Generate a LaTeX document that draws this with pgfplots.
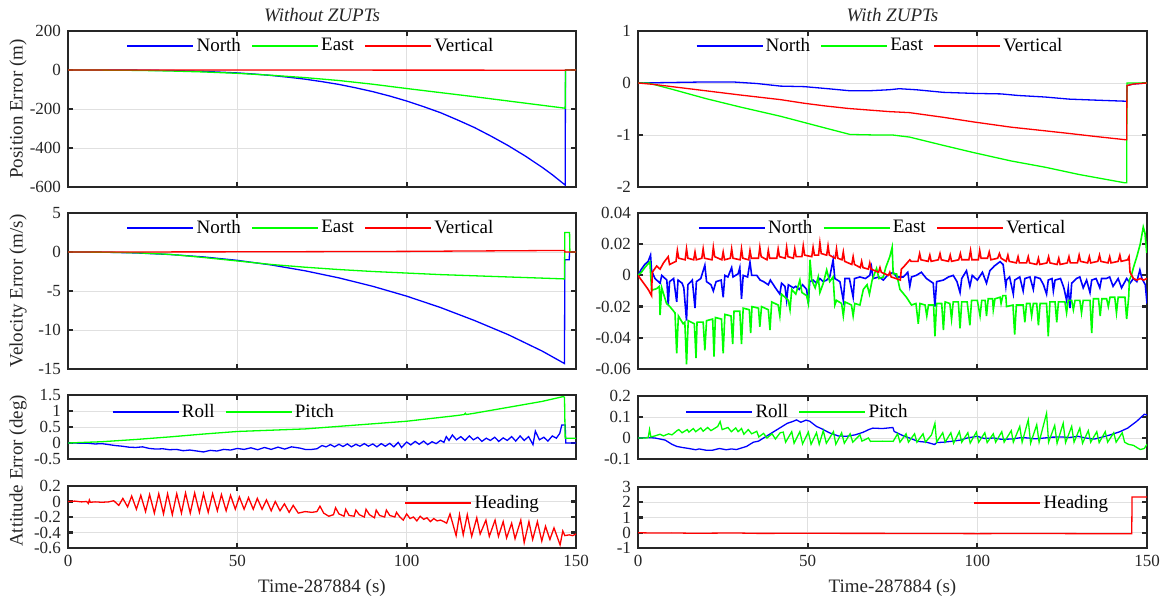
\documentclass[border=0pt]{standalone}
\usepackage{fontspec}
\setmainfont{Liberation Serif}
\usepackage{pgfplots}
\pgfplotsset{compat=1.18}
\definecolor{mblue}{RGB}{0,0,255}
\definecolor{mgreen}{RGB}{0,255,0}
\definecolor{mred}{RGB}{255,0,0}
\definecolor{axcol}{RGB}{38,38,38}
\definecolor{gridcol}{RGB}{224,224,224}
\newcommand\lab{\fontsize{9.5}{11}\selectfont}
\newcommand\tck{\fontsize{8.5}{10}\selectfont}
\pgfplotsset{
  base/.style={scale only axis, xmin=0, xmax=150, xtick={0,50,100,150},
    axis line style={line width=1.1pt, color=axcol},
    tick style={color=axcol, line width=1.1pt},
    tick align=inside, major tick length=2.5pt,
    grid=major, grid style={line width=0.4pt, color=gridcol},
    tick label style={font=\tck, color=axcol},
    /pgf/number format/assume math mode=true,
    scaled ticks=false,
    legend style={draw=none, fill=none, font=\lab, legend columns=-1,
      inner xsep=0pt, inner ysep=0pt, nodes={inner sep=1.25pt},
      /tikz/every even column/.append style={column sep=4pt}},
    legend image code/.code={\draw[##1] (0pt,0pt) -- (33pt,0pt);},
    every axis plot/.append style={line width=0.65pt},
    every axis y label/.style={at={(axis description cs:-0.0984,0.5)}, rotate=90, anchor=center, font=\lab, color=axcol},
    every axis x label/.style={at={(axis description cs:0.5,0)}, yshift=-20pt, anchor=center, font=\lab, color=axcol},
    every axis title/.style={at={(axis description cs:0.5,1)}, yshift=7.75pt, anchor=center, font=\lab\itshape, color=axcol},
    anchor=north west},
  lefta/.style={base, width=254pt},
  righta/.style={base, width=254.5pt},
}
\begin{document}
\begin{tikzpicture}
\path[use as bounding box] (0,0) rectangle (583.5pt,-301.5pt);

% ---------- Left 1: Position without ZUPTs
\begin{axis}[lefta, at={(34pt,-15.5pt)}, height=78pt, ymin=-600, ymax=200,
  ytick={-600,-400,-200,0,200}, yticklabels={-600,-400,-200,0,200}, xticklabels={},
  title={Without ZUPTs}, ylabel={Position Error (m)},
  legend style={at={(0.115,0.904)}, anchor=west}]
\addplot[mblue] coordinates {(0,0)(10,-0.06)(20,-0.7)(30,-2.7)(40,-7.1)(50,-15)(55,-20.8)(60,-28)(65,-36.8)(70,-47)(75,-59.8)(80,-74)(85,-91.6)(90,-111)(95,-133.6)(100,-159)(105,-188)(110,-219)(115,-256)(120,-295)(125,-340)(130,-388)(135,-441)(140,-499)(143,-537)(146.8,-590)(146.9,0)(150,0)};
\addplot[mgreen] coordinates {(0,0)(10,-0.5)(20,-2)(30,-5)(40,-10)(50,-17)(60,-27)(70,-39)(80,-54)(90,-73)(100,-95)(110,-116)(120,-137)(130,-159)(140,-181)(146.8,-196)(146.9,0)(150,0)};
\addplot[mred] coordinates {(0,0)(50,-0.3)(100,-0.6)(146.8,-1)(146.9,0)(150,0)};
\legend{North,East,Vertical}
\end{axis}

% ---------- Left 2: Velocity without ZUPTs
\begin{axis}[lefta, at={(34pt,-106.5pt)}, height=78pt, ymin=-15, ymax=5,
  ytick={-15,-10,-5,0,5}, yticklabels={-15,-10,-5,0,5}, xticklabels={},
  ylabel={Velocity Error (m/s)},
  legend style={at={(0.115,0.904)}, anchor=west}]
\addplot[mblue] coordinates {(0,0)(10,-0.02)(20,-0.12)(30,-0.32)(40,-0.63)(50,-1.07)(60,-1.66)(70,-2.41)(80,-3.32)(90,-4.40)(100,-5.66)(110,-7.12)(120,-8.78)(130,-10.6)(140,-12.7)(146.6,-14.3)(146.7,-1)(148,-1)(148.1,0)(150,0)};
\addplot[mgreen] coordinates {(0,0)(10,-0.02)(20,-0.1)(30,-0.3)(40,-0.7)(50,-1.15)(60,-1.6)(70,-1.95)(80,-2.25)(90,-2.5)(100,-2.7)(110,-2.9)(120,-3.05)(130,-3.2)(140,-3.35)(146.6,-3.45)(146.7,2.5)(148.1,2.5)(148.2,0)(150,0)};
\addplot[mred] coordinates {(0,0)(50,0.02)(100,0.08)(146.6,0.2)(146.7,0)(150,0)};
\legend{North,East,Vertical}
\end{axis}

% ---------- Left 3: Roll / Pitch without ZUPTs
\begin{axis}[lefta, at={(34pt,-197.5pt)}, height=32pt, ymin=-0.5, ymax=1.5,
  ytick={-0.5,0,0.5,1,1.5}, yticklabels={-0.5,0,0.5,1,1.5}, xticklabels={},
  legend style={at={(0.086,0.734)}, anchor=west}]
\addplot[mblue] coordinates {(0,0)(2,0)(4,-0.01)(6,-0.01)(8,-0.03)(10,-0.02)(12,-0.05)(14,-0.08)(16,-0.1)(18,-0.13)(20,-0.14)(22,-0.12)(24,-0.17)(26,-0.19)(28,-0.18)(30,-0.21)(32,-0.2)(34,-0.24)(36,-0.22)(38,-0.25)(40,-0.28)(42,-0.23)(44,-0.25)(46,-0.2)(48,-0.22)(50,-0.17)(52,-0.2)(54,-0.15)(56,-0.21)(58,-0.14)(60,-0.2)(62,-0.13)(64,-0.19)(66,-0.12)(68.5,-0.16)(70,-0.2)(72,-0.2)(73.5,-0.18)(75,-0.08)(76.2,-0.12)(77.5,-0.05)(78.7,-0.12)(80,-0.04)(81.2,-0.11)(82.5,-0.03)(83.7,-0.12)(85,-0.04)(86.2,-0.1)(87.5,-0.02)(88.7,-0.1)(90,-0.03)(91.2,-0.12)(92.5,-0.02)(93.7,-0.1)(95,-0.01)(96.2,-0.12)(97.5,0.02)(98.5,-0.14)(100,0.03)(101.2,-0.06)(102.5,0.05)(103.7,-0.04)(105,0.06)(106.2,-0.05)(107.5,0.04)(108.7,-0.02)(110,0.08)(111,0.02)(111.7,0.2)(112.5,0.08)(113.5,0.25)(114.7,0.1)(116,0.2)(117.2,0.08)(118.5,0.22)(119.7,0.1)(121,0.18)(122.2,0.05)(123.5,0.15)(124.7,0.08)(126,0.18)(127.2,0.05)(128.5,0.16)(129.7,0.08)(131,0.2)(132.2,0.06)(133.5,0.22)(134.7,0.08)(136,0.2)(137.3,-0.05)(138,0.37)(139.2,0.1)(140.5,0.18)(141.7,0.06)(143,0.22)(144.2,0.15)(145.2,0.3)(145.8,0.56)(146.8,0.56)(147,0.0)(150,0.0)};
\addplot[mgreen] coordinates {(0,0)(10,0.04)(20,0.11)(30,0.19)(40,0.28)(50,0.36)(60,0.40)(70,0.44)(80,0.52)(90,0.60)(100,0.68)(110,0.80)(115,0.86)(117,0.89)(117.3,0.93)(117.6,0.89)(120,0.93)(133,1.17)(140,1.30)(146.2,1.45)(146.6,1.43)(146.8,0.15)(150,0.15)};
\legend{Roll,Pitch}
\end{axis}

% ---------- Left 4: Heading without ZUPTs
\begin{axis}[lefta, at={(34pt,-243pt)}, height=31pt, ymin=-0.6, ymax=0.2,
  ytick={-0.6,-0.4,-0.2,0,0.2}, yticklabels={-0.6,-0.4,-0.2,0,0.2}, xticklabels={0,50,100,150},
  xlabel={Time-287884 (s)},
  legend style={at={(0.662,0.726)}, anchor=west}]
\addplot[mred] coordinates {(0,0)(2,0.005)(4,-0.005)(5.5,0)(6,-0.025)(6.3,0.02)(6.6,-0.01)(8,-0.005)(10,-0.01)(12,-0.005)(13.5,0.01)(15,-0.05)(16.2,0.04)(17.6,-0.07)(18.8,0.07)(20.2,-0.1)(21.5,0.08)(22.9,-0.13)(24.1,0.09)(25.5,-0.15)(26.8,0.1)(28.2,-0.16)(29.4,0.1)(30.8,-0.17)(32.1,0.1)(33.5,-0.15)(34.7,0.11)(36.1,-0.15)(37.4,0.11)(38.8,-0.14)(40,0.1)(41.4,-0.14)(42.7,0.1)(44.1,-0.12)(45.3,0.09)(46.7,-0.12)(48,0.08)(49.4,-0.1)(50.6,0.06)(52,-0.1)(53.3,0.05)(54.7,-0.1)(55.9,0.04)(57.3,-0.1)(58.6,0.02)(60,-0.12)(61.2,0.0)(62.6,-0.12)(63.9,-0.03)(65.3,-0.14)(66.5,-0.05)(68,-0.15)(70,-0.13)(72,-0.14)(73.5,-0.13)(74.4,-0.06)(75.5,-0.15)(77,-0.19)(78.4,-0.17)(79,-0.08)(80,-0.16)(81.5,-0.19)(82,-0.1)(83,-0.18)(84.5,-0.19)(85,-0.11)(86,-0.17)(87.5,-0.2)(88,-0.1)(89,-0.17)(90.5,-0.21)(91,-0.11)(92,-0.18)(93.5,-0.2)(94,-0.11)(95,-0.18)(96.5,-0.2)(97,-0.14)(98,-0.2)(99,-0.24)(100,-0.16)(101,-0.22)(102,-0.2)(103,-0.25)(104,-0.19)(105,-0.23)(106,-0.21)(107,-0.26)(108,-0.22)(109,-0.25)(110,-0.24)(111,-0.26)(111.8,-0.28)(112.8,-0.16)(114.6,-0.44)(115.6,-0.17)(116.7,-0.43)(117.9,-0.17)(119.2,-0.45)(120.7,-0.21)(121.7,-0.42)(123.4,-0.24)(124.4,-0.45)(126.1,-0.24)(127.1,-0.45)(128.5,-0.26)(129.5,-0.47)(131,-0.28)(132,-0.48)(133.7,-0.24)(134.7,-0.53)(136.1,-0.26)(137.2,-0.49)(138.6,-0.26)(139.9,-0.51)(141,-0.32)(142.3,-0.49)(143.5,-0.34)(145.3,-0.56)(146.1,-0.38)(146.7,-0.44)(148,-0.43)(149,-0.44)(150,-0.42)};
\legend{Heading}
\end{axis}

% ---------- Right 1: Position with ZUPTs
\begin{axis}[righta, at={(319pt,-15.5pt)}, height=78pt, ymin=-2, ymax=1,
  ytick={-2,-1,0,1}, yticklabels={-2,-1,0,1}, xticklabels={},
  title={With ZUPTs},
  legend style={at={(0.113,0.904)}, anchor=west}]
\addplot[mblue] coordinates {(0,0)(10,0.01)(20,0.02)(28,0.02)(35,-0.01)(42,-0.06)(49,-0.07)(56,-0.11)(62.5,-0.15)(68,-0.15)(74,-0.13)(77,-0.11)(82,-0.13)(90,-0.18)(99,-0.2)(107,-0.21)(112,-0.24)(120,-0.27)(127,-0.31)(135,-0.33)(143.5,-0.35)(144,-0.35)(144.1,-0.05)(146,-0.02)(150,0)};
\addplot[mgreen] coordinates {(0,0)(3,0)(10,-0.12)(20,-0.3)(30,-0.46)(42,-0.64)(49,-0.76)(56,-0.88)(62.5,-0.99)(70,-1.0)(75,-1.0)(80,-1.04)(90,-1.2)(99,-1.34)(110,-1.5)(120,-1.62)(130,-1.76)(143.5,-1.92)(144,-1.92)(144.1,0)(150,0)};
\addplot[mred] coordinates {(0,0)(5,-0.03)(10,-0.07)(20,-0.15)(30,-0.23)(42,-0.32)(49,-0.39)(55,-0.44)(62,-0.49)(68,-0.52)(74,-0.55)(80,-0.57)(90,-0.66)(99,-0.75)(110,-0.85)(120,-0.92)(127,-0.97)(135,-1.03)(143.5,-1.09)(144,-1.09)(144.1,-0.05)(146,-0.02)(150,0)};
\legend{North,East,Vertical}
\end{axis}

% ---------- Right 2: Velocity with ZUPTs
\begin{axis}[righta, at={(319pt,-106.5pt)}, height=78pt, ymin=-0.06, ymax=0.04,
  ytick={-0.06,-0.04,-0.02,0,0.02,0.04}, yticklabels={-0.06,-0.04,-0.02,0,0.02,0.04}, xticklabels={},
  every axis plot/.append style={line width=0.8pt},
  legend style={at={(0.117,0.904)}, anchor=west}]
\addplot[mblue] coordinates {(0,0)(1,0.004)(2,0.007)(3,0.009)(3.7,0.013)(4,0.003)(5,-0.002)(6.5,-0.005)(7,0)(8.5,-0.003)(8.9,-0.019)(9.3,-0.004)(10.5,-0.002)(11.4,-0.017)(11.8,-0.003)(13,-0.005)(13.5,-0.008)(14.3,-0.029)(14.7,-0.006)(16,-0.003)(16.8,-0.021)(17.2,-0.004)(18.5,-0.002)(19.7,0.0065)(20.2,-0.004)(21.5,-0.006)(22.2,-0.01)(23,-0.004)(24.5,-0.003)(25.1,-0.014)(25.6,0)(26.5,-0.001)(27.6,0.005)(28,-0.001)(29.5,0.001)(30,0.005)(30.5,-0.015)(31,0.0)(32.3,-0.001)(33,0.0085)(33.5,0.0)(35,0.0)(36,-0.003)(37,-0.004)(38.4,-0.006)(39,-0.003)(40.5,-0.008)(41.8,-0.012)(42.3,-0.005)(43.3,-0.007)(43.8,-0.016)(44.3,-0.006)(45.8,-0.008)(46.5,-0.007)(47.5,-0.009)(48.5,-0.006)(49.7,-0.009)(50.2,-0.018)(50.6,-0.004)(51.6,-0.003)(52.6,-0.005)(53.6,-0.002)(54.6,-0.004)(55.6,-0.003)(56.5,-0.001)(57.5,0.01)(58,-0.002)(59.5,-0.004)(60.5,-0.016)(61,-0.002)(62.3,-0.002)(63.4,-0.014)(63.8,-0.002)(65.4,-0.001)(67,-0.002)(68.3,0.0)(68.8,0.0055)(69.3,-0.002)(71,-0.001)(72.3,-0.003)(73.5,0.0)(75.2,0.002)(76.2,-0.001)(78.2,-0.001)(79.5,0.002)(80.1,-0.007)(80.6,-0.001)(82,0.0)(83.5,0.002)(85,-0.002)(87,-0.005)(87.5,-0.02)(88,-0.004)(90,-0.003)(91.5,-0.001)(92.9,0.0)(94,-0.004)(94.9,-0.011)(95.4,-0.002)(96.8,0.003)(97.8,-0.007)(98.5,0.0)(100,-0.003)(101.5,0.002)(102.7,-0.005)(103.7,0.003)(105,0.006)(106.7,0.0088)(107.6,0.007)(108.4,-0.007)(108.6,-0.003)(109.5,-0.001)(110.6,-0.012)(111,-0.003)(112.5,-0.001)(113.5,-0.01)(114,-0.002)(115.5,-0.001)(116.5,-0.009)(117,-0.001)(118.5,-0.002)(119.5,-0.006)(120.4,-0.012)(120.9,-0.003)(122,-0.002)(122.4,-0.01)(122.9,-0.003)(124.5,-0.002)(125.5,-0.008)(126.3,-0.016)(126.8,-0.008)(127.3,-0.021)(127.8,-0.005)(129.2,-0.002)(130.2,-0.001)(131.2,-0.008)(132.2,-0.003)(133.2,-0.011)(133.7,-0.003)(135,-0.002)(136.1,-0.008)(136.6,-0.002)(138,-0.002)(139,-0.001)(140,-0.007)(141.5,-0.002)(142.5,-0.008)(144,-0.002)(145,-0.005)(146,-0.002)(147,-0.004)(147.9,0.0035)(148.5,-0.002)(149.5,-0.006)(150,-0.018)};
\addplot[mgreen] coordinates {(0,0)(1,0.002)(2,0.005)(3.5,0.0087)(4,-0.0095)(5.5,-0.0085)(6.3,-0.007)(6.5,-0.0255)(7,-0.008)(8.4,-0.018)(9.4,-0.02)(10.9,-0.024)(11.4,-0.05)(11.9,-0.026)(13.3,-0.031)(13.8,-0.03)(14.3,-0.057)(14.8,-0.029)(16.6,-0.031)(17.1,-0.053)(17.4,-0.03)(19.2,-0.03)(19.7,-0.048)(20.2,-0.029)(22,-0.028)(22.4,-0.052)(22.8,-0.027)(24.6,-0.028)(25.1,-0.05)(25.6,-0.025)(27.4,-0.026)(27.9,-0.044)(28.3,-0.023)(30,-0.023)(30.5,-0.044)(31,-0.021)(32.8,-0.022)(33.2,-0.037)(33.6,-0.020)(35.5,-0.021)(35.9,-0.033)(36.4,-0.020)(38.4,-0.022)(38.9,-0.035)(39.4,-0.017)(41.3,-0.019)(41.8,-0.026)(42.3,-0.012)(44.3,-0.016)(44.8,-0.022)(45.3,-0.009)(46.5,-0.012)(47.7,-0.003)(48.3,-0.011)(49.7,-0.013)(50.2,-0.018)(50.7,0.01)(51.2,-0.003)(52.2,-0.008)(53.1,-0.001)(53.6,-0.011)(54.6,-0.005)(55.6,0.0035)(56.5,-0.004)(57.5,-0.001)(58,-0.019)(58.5,-0.016)(60,-0.018)(60.5,-0.026)(61,-0.017)(62.9,-0.019)(63.4,-0.026)(63.9,-0.018)(65.4,-0.019)(66.4,-0.009)(67.5,-0.006)(68.2,-0.012)(69,-0.003)(70.3,0.0045)(71,-0.002)(72.3,-0.001)(73,0.005)(74.2,0.012)(74.9,0.018)(75.2,0.001)(76.2,0.001)(77.2,-0.009)(79.1,-0.014)(80.6,-0.019)(81.9,-0.018)(82.6,-0.031)(83.1,-0.018)(84.6,-0.019)(85.1,-0.026)(85.6,-0.019)(87.1,-0.019)(87.5,-0.039)(88,-0.018)(89.5,-0.018)(90,-0.035)(90.5,-0.017)(91.9,-0.018)(92.4,-0.028)(92.9,-0.017)(94.4,-0.017)(94.9,-0.034)(95.4,-0.017)(97,-0.017)(97.8,-0.032)(98.3,-0.016)(100,-0.016)(100.8,-0.026)(101.3,-0.016)(102.3,-0.016)(102.7,-0.026)(103.2,-0.015)(104.5,-0.015)(104.7,-0.022)(105.2,-0.015)(106.7,-0.014)(107,-0.018)(107.5,-0.013)(108.4,-0.013)(108.6,-0.02)(110.5,-0.019)(111,-0.038)(111.5,-0.019)(113.5,-0.019)(114,-0.03)(114.5,-0.018)(115.5,-0.018)(116,-0.026)(116.5,-0.018)(117.5,-0.018)(118,-0.032)(118.5,-0.018)(120.4,-0.018)(120.9,-0.039)(121.4,-0.017)(122.9,-0.017)(123.4,-0.03)(123.9,-0.017)(125.8,-0.017)(126.3,-0.024)(126.8,-0.016)(127.8,-0.016)(128.3,-0.022)(128.8,-0.016)(130.2,-0.016)(130.7,-0.024)(131.2,-0.016)(133.2,-0.016)(133.7,-0.037)(134.2,-0.015)(135.7,-0.015)(136.2,-0.026)(136.7,-0.015)(138.1,-0.015)(138.6,-0.02)(139.1,-0.014)(140.5,-0.014)(141,-0.024)(141.5,-0.014)(143.5,-0.014)(144,-0.028)(144.6,-0.014)(144.8,-0.003)(145.4,0.0)(146,0.005)(147,0.012)(148,0.02)(148.9,0.031)(149.4,0.027)(149.9,0.015)(150,0.015)};
\addplot[mred] coordinates {(0,0)(1,-0.003)(2,-0.006)(3,-0.009)(4,-0.013)(4.2,0.002)(5.5,0.006)(6.5,0.004)(7.5,0.008)(8.9,0.012)(9.3,0.007)(11.2,0.009)(11.6,0.016)(12,0.011)(13.9,0.010)(14.3,0.017)(14.7,0.011)(16.4,0.010)(16.8,0.015)(17.2,0.01)(18.8,0.011)(19.2,0.017)(19.6,0.011)(21.8,0.010)(22.2,0.018)(22.6,0.012)(24.7,0.010)(25.1,0.015)(25.5,0.010)(27.2,0.011)(27.6,0.017)(28,0.011)(30.1,0.010)(30.5,0.017)(30.9,0.011)(32.6,0.010)(33,0.016)(33.4,0.011)(35.5,0.011)(35.9,0.018)(36.3,0.012)(38,0.010)(38.4,0.016)(38.8,0.011)(40.9,0.011)(41.3,0.017)(41.7,0.012)(43.4,0.011)(43.8,0.018)(44.2,0.012)(45.8,0.011)(46.2,0.017)(46.6,0.012)(48.3,0.012)(48.7,0.019)(49.1,0.013)(51.2,0.012)(51.6,0.018)(52,0.013)(53.2,0.013)(53.6,0.021)(54,0.014)(55.6,0.013)(56,0.019)(56.4,0.013)(58.1,0.011)(58.5,0.017)(58.9,0.011)(60.1,0.010)(60.5,0.015)(60.9,0.009)(63,0.007)(63.4,0.012)(63.8,0.007)(65.5,0.005)(65.9,0.009)(66.3,0.005)(67.9,0.004)(68.3,0.008)(68.7,0.004)(70.9,0.002)(71.3,0.005)(71.7,0.002)(73.8,0.0)(74.2,0.002)(74.6,-0.001)(76,-0.002)(77.3,-0.003)(77.6,0.004)(78.5,0.006)(80.1,0.01)(80.5,0.009)(82.5,0.009)(83,0.014)(83.4,0.01)(85.5,0.009)(86,0.013)(86.4,0.009)(88.5,0.010)(89,0.014)(89.4,0.01)(91.5,0.009)(92,0.013)(92.4,0.009)(94.5,0.010)(95,0.014)(95.4,0.010)(97.5,0.010)(98,0.016)(98.4,0.010)(100.3,0.010)(100.7,0.016)(101.1,0.011)(103,0.011)(103.5,0.015)(104,0.01)(106,0.011)(106.5,0.014)(107,0.011)(108.5,0.009)(109,0.013)(109.4,0.009)(111.5,0.008)(112,0.012)(112.4,0.008)(114.5,0.008)(115,0.012)(115.4,0.008)(117.5,0.007)(118,0.011)(118.4,0.007)(120.5,0.008)(121,0.012)(121.4,0.008)(123.5,0.007)(124,0.011)(124.4,0.007)(126.5,0.008)(127,0.012)(127.4,0.008)(129.5,0.008)(130,0.013)(130.4,0.009)(132.5,0.008)(133,0.012)(133.4,0.008)(135.5,0.009)(136,0.013)(136.4,0.009)(138.5,0.008)(139,0.012)(139.4,0.008)(141.5,0.009)(142,0.013)(142.4,0.009)(144.3,0.010)(144.7,0.012)(145,0.002)(146,-0.002)(147,-0.003)(148,-0.002)(149,-0.003)(150,-0.002)};
\legend{North,East,Vertical}
\end{axis}

% ---------- Right 3: Roll / Pitch with ZUPTs
\begin{axis}[righta, at={(319pt,-198pt)}, height=31.5pt, ymin=-0.1, ymax=0.2,
  ytick={-0.1,0,0.1,0.2}, yticklabels={-0.1,0,0.1,0.2}, xticklabels={},
  legend style={at={(0.093,0.746)}, anchor=west}]
\addplot[mblue] coordinates {(0,0)(3,0.002)(5,0.0)(8,-0.01)(10,-0.03)(11.4,-0.04)(13,-0.045)(15,-0.05)(17,-0.056)(18,-0.052)(20,-0.058)(22,-0.058)(24,-0.05)(26,-0.056)(27.5,-0.052)(29,-0.055)(31,-0.045)(32,-0.04)(34,-0.02)(35.5,-0.015)(37,0.0)(40,0.03)(42,0.05)(43,0.06)(44,0.07)(45.5,0.078)(46.7,0.086)(48,0.075)(49.5,0.085)(50.6,0.08)(52.6,0.055)(54,0.045)(56.5,0.024)(59,0.01)(61.4,0.008)(64,0.015)(66.3,0.027)(68,0.04)(69.2,0.047)(72,0.045)(75.1,0.05)(75.5,0.031)(78.5,0.008)(80,0.0)(82.5,-0.016)(85,-0.02)(87.4,-0.031)(88,-0.022)(90,-0.02)(92.3,-0.016)(95,-0.01)(97,0.0)(100,0.008)(102,-0.002)(105,0.0)(107,-0.006)(110,-0.005)(113,0.002)(115,0.0)(117,-0.004)(119.8,0.0)(122,0.004)(125,0.005)(127,0.002)(129.6,0.008)(132,0.0)(134.5,-0.005)(137,0.005)(139.4,0.016)(142,0.03)(144.3,0.047)(147,0.08)(149.2,0.113)(150,0.11)};
\addplot[mgreen] coordinates {(0,0)(2,0.0)(3,0.002)(3.4,0.04)(3.8,0.005)(5,0.01)(6.5,0.018)(7.5,0.01)(9,0.02)(10,0.015)(11.5,0.035)(12,0.04)(13,0.025)(14.5,0.04)(15,0.028)(16.3,0.045)(17,0.03)(18.5,0.048)(19.2,0.032)(20.5,0.05)(21.5,0.035)(23.5,0.055)(24.2,0.078)(24.8,0.04)(26.5,0.05)(27.5,0.03)(28.8,0.048)(29.5,0.03)(30.5,0.045)(31.2,0.018)(32.5,0.04)(33.5,0.02)(35,0.032)(35.6,0.005)(37,0.022)(38,0.0)(39.5,0.02)(40.5,-0.005)(41.9,0.025)(42.8,0.028)(43.5,-0.02)(45.3,0.03)(46,-0.025)(47.7,0.03)(48.5,-0.028)(50.2,0.028)(51,-0.03)(52.6,0.025)(53.4,-0.03)(54.6,0.035)(55.5,-0.025)(57.6,0.03)(58.3,-0.03)(60,0.025)(60.8,-0.025)(62.5,0.02)(63.3,-0.02)(65.4,0.015)(66,-0.015)(67.9,0.0)(68.5,-0.016)(72,-0.015)(75.2,-0.016)(76.5,0.02)(77.2,-0.02)(79,0.02)(79.7,-0.02)(81.5,0.02)(82.2,-0.02)(84,0.02)(84.7,-0.02)(86.5,0.015)(87.5,0.07)(88,-0.02)(89.8,0.025)(90.5,-0.02)(92.2,0.025)(93,-0.025)(94.7,0.03)(95.4,-0.02)(97.2,0.025)(97.9,-0.024)(99.7,0.028)(100.4,-0.02)(102.2,0.025)(102.9,-0.022)(104.7,0.02)(105.4,-0.02)(107.2,0.03)(107.9,-0.02)(110,0.035)(110.6,-0.02)(112.5,0.055)(113.2,-0.02)(115,0.086)(115.7,-0.025)(117.5,0.063)(118.2,-0.02)(120.4,0.118)(121,-0.02)(122.8,0.06)(123.5,-0.025)(125.3,0.07)(126,-0.022)(127.8,0.055)(128.5,-0.02)(130.2,0.047)(131,-0.025)(132.7,0.035)(133.4,-0.02)(135.2,0.03)(135.9,-0.022)(137.7,0.03)(138.4,-0.02)(140.2,0.025)(140.9,-0.02)(142.7,0.025)(143.4,-0.02)(144.5,-0.03)(146,-0.035)(147,-0.045)(148,-0.055)(149.2,-0.05)(150,-0.03)};
\legend{Roll,Pitch}
\end{axis}

% ---------- Right 4: Heading with ZUPTs
\begin{axis}[righta, at={(319pt,-243.5pt)}, height=30.5pt, ymin=-1, ymax=3,
  ytick={-1,0,1,2,3}, yticklabels={-1,0,1,2,3}, xticklabels={0,50,100,150},
  xlabel={Time-287884 (s)},
  legend style={at={(0.659,0.738)}, anchor=west}]
\addplot[mred] coordinates {(0,0)(5,-0.02)(10,-0.01)(15,-0.03)(20,-0.03)(25,-0.02)(30,-0.02)(35,-0.04)(40,-0.04)(45,-0.03)(50,-0.03)(60,-0.04)(70,-0.04)(80,-0.05)(90,-0.05)(100,-0.06)(110,-0.05)(120,-0.05)(130,-0.06)(140,-0.06)(145.5,-0.06)(145.6,2.35)(150,2.35)};
\legend{Heading}
\end{axis}

\node[rotate=90, font=\lab, color=axcol, anchor=center] at (9pt,-235.5pt) {Attitude Error (deg)};
\end{tikzpicture}
\end{document}
